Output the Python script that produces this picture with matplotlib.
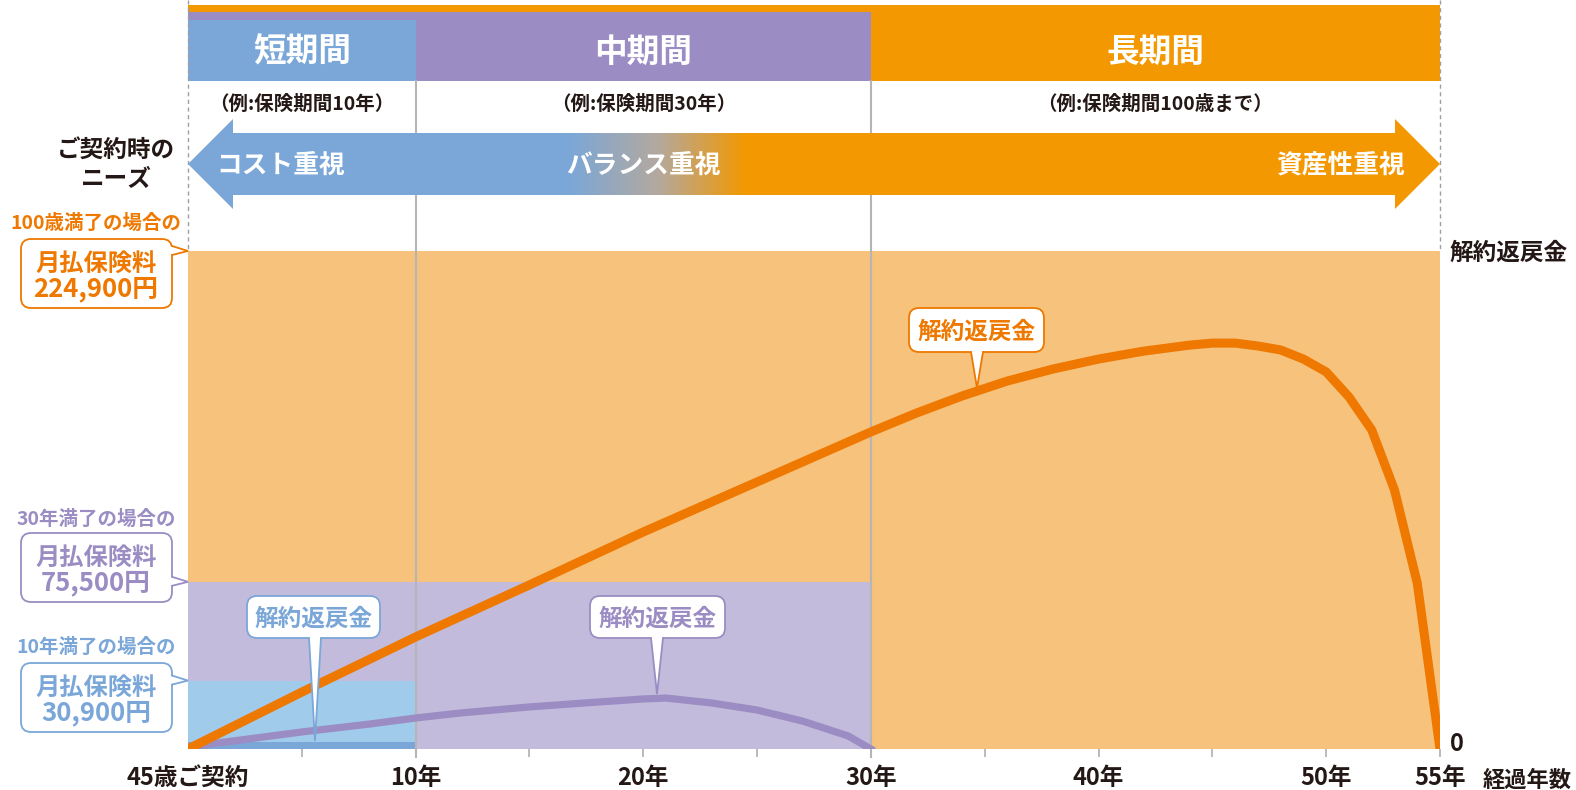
import matplotlib
matplotlib.use("Agg")
import numpy as np
import matplotlib.pyplot as plt
from matplotlib.patches import Rectangle, Polygon, FancyBboxPatch
from matplotlib.colors import LinearSegmentedColormap

plt.rcParams['font.family'] = ['Noto Sans CJK JP', 'DejaVu Sans']

# ---- data ----
periods = ['短期間', '中期間', '長期間']
period_notes = ['（例:保険期間10年）', '（例:保険期間30年）', '（例:保険期間100歳まで）']
period_ends = [10, 30, 55]
needs = ['コスト重視', 'バランス重視', '資産性重視']
premium_labels = ['10年満了の場合の', '30年満了の場合の', '100歳満了の場合の']
premiums = [30900, 75500, 224900]          # monthly premium (yen)

xticks = [0, 10, 20, 30, 40, 50, 55]
xticklabels = ['45歳ご契約', '10年', '20年', '30年', '40年', '50年', '55年']
minor_ticks = [5, 15, 25, 35, 45]

# surrender value curves (same scale as the premium bands)
orange_years = [0, 5, 10, 15, 20, 25, 30, 32, 34, 36, 38, 40, 42, 44, 45, 46,
                47, 48, 49, 50, 51, 52, 53, 54, 55]
orange_refund = [0, 25700, 50600, 74100, 98000, 120600, 143200, 151700, 159400,
                 166200, 171600, 176100, 179700, 182400, 183300, 183300, 182000,
                 180200, 176100, 170300, 159000, 144100, 117000, 75000, 0]
purple_years = [0, 1, 3, 5, 8, 10, 12, 15, 18, 20, 21, 23, 25, 27, 29, 30]
purple_refund = [0, 2300, 5000, 7700, 11300, 14000, 16300, 19000, 21200, 22600,
                 23000, 20800, 17600, 12600, 5900, 0]
blue_years = [0, 10]
blue_refund = [3200, 3200]

# ---- colours ----
DARK = '#231815'
GRAY = '#b5b5b5'
ORANGE_HEAD, ORANGE_FILL, ORANGE_LINE = '#f39800', '#f7c27b', '#ee7800'
PURPLE_HEAD, PURPLE_FILL, PURPLE_LINE = '#9b8dc3', '#c3bbdc', '#9b8dc3'
BLUE_HEAD, BLUE_FILL, BLUE_STRIP = '#7aa7d8', '#a0cbeb', '#7aa7d8'
head_colors = [BLUE_HEAD, PURPLE_HEAD, ORANGE_HEAD]
fill_colors = [BLUE_FILL, PURPLE_FILL, ORANGE_FILL]
label_colors = [BLUE_HEAD, PURPLE_LINE, ORANGE_LINE]

W, H = 1576, 790
X0, X1, YT, YB = 188, 1440, 251, 749   # plot box in pixels

fig = plt.figure(figsize=(W / 100, H / 100), dpi=100)
ax = fig.add_axes([X0 / W, 1 - YB / H, (X1 - X0) / W, (YB - YT) / H])
ax.set_xlim(0, 55)
ax.set_ylim(0, premiums[-1])
ax.patch.set_alpha(0)
for s in ax.spines.values():
    s.set_visible(False)
ax.set_yticks([])


def fy(row):
    return (YB - row) / (YB - YT)


xt = ax.get_xaxis_transform()

# header period bands
head_tops = [20, 12, 5]
for end, top, c in reversed(list(zip(period_ends, head_tops, head_colors))):
    ax.add_patch(Rectangle((0, fy(81)), end, fy(top) - fy(81), transform=xt,
                           color=c, lw=0, clip_on=False, zorder=1))
starts = [0] + period_ends[:-1]
for s, e, name, note in zip(starts, period_ends, periods, period_notes):
    ax.text((s + e) / 2, fy(52), name, transform=xt, ha='center', va='center',
            color='white', fontsize=23.5, fontweight='bold', zorder=3)
    ax.text((s + e) / 2, fy(104), note, transform=xt, ha='center', va='center',
            color=DARK, fontsize=14, fontweight='bold', zorder=3)

# premium bands
for end, p, c in reversed(list(zip(period_ends, premiums, fill_colors))):
    ax.bar(0, p, width=end, align='edge', color=c, lw=0, zorder=1)
ax.fill_between(blue_years, 0, blue_refund, color=BLUE_STRIP, lw=0, zorder=2)

for b in period_ends[:2]:
    ax.axvline(b, ymin=fy(757), ymax=fy(81), color=GRAY, lw=1.5, zorder=3,
               clip_on=False)

ax.plot(purple_years, purple_refund, color=PURPLE_LINE, lw=5.2, zorder=4,
        solid_joinstyle='round')
ax.plot(orange_years, orange_refund, color=ORANGE_LINE, lw=6.5, zorder=5,
        solid_joinstyle='round')

ax.set_xticks(xticks, xticklabels, fontsize=17, fontweight='bold', color=DARK)
ax.set_xticks(minor_ticks, minor=True)
ax.tick_params(axis='x', which='both', length=5.8, width=1.3, color=GRAY, pad=6.6)
ax.xaxis.get_major_ticks()[0].tick1line.set_visible(False)

# ---- overlay in pixel coordinates ----
ov = fig.add_axes([0, 0, 1, 1])
ov.set_zorder(2)
ov.patch.set_alpha(0)
ov.axis('off')

# needs arrow
cm = LinearSegmentedColormap.from_list('g', [BLUE_HEAD, '#b3a9a0', ORANGE_HEAD])
ov.imshow(np.linspace(0, 1, 200)[None, :], extent=(567, 747, 195, 133), cmap=cm,
          aspect='auto', zorder=2, interpolation='bilinear')
ov.add_patch(Polygon([(188, 164), (233, 119), (233, 133), (568, 133), (568, 195),
                      (233, 195), (233, 209)], closed=True, fc=BLUE_HEAD, lw=0, zorder=2))
ov.add_patch(Polygon([(746, 133), (1395, 133), (1395, 119), (1440, 164), (1395, 209),
                      (1395, 195), (746, 195)], closed=True, fc=ORANGE_HEAD, lw=0, zorder=2))
for x, t in zip([281, 643, 1340], needs):
    ov.text(x, 165, t, ha='center', va='center', color='white', fontsize=18.5,
            fontweight='bold', zorder=3)

for x in (X0, X1):
    ov.plot([x, x], [0, YT], color='#a0a0a0', lw=1, ls=(0, (3, 2.5)), zorder=1)

ov.text(116, 150, 'ご契約時の', ha='center', va='center', color=DARK,
        fontsize=17, fontweight='bold')
ov.text(116, 179, 'ニーズ', ha='center', va='center', color=DARK,
        fontsize=17, fontweight='bold')


def callout(x0, y0, x1, y1, b1, tip, b2, color, lw=1.3):
    ov.add_patch(FancyBboxPatch((x0, y0), x1 - x0, y1 - y0,
                                boxstyle='round,pad=0,rounding_size=10',
                                fc='white', ec=color, lw=lw, zorder=10))
    if b1[0] == b2[0]:
        inner = [(b1[0] - 2, b1[1]), tip, (b2[0] - 2, b2[1])]
    else:
        inner = [(b1[0], b1[1] - 2), tip, (b2[0], b2[1] - 2)]
    ov.add_patch(Polygon(inner, closed=True, fc='white', lw=0, zorder=11))
    ov.plot([b1[0], tip[0], b2[0]], [b1[1], tip[1], b2[1]], color=color, lw=lw,
            zorder=12, solid_joinstyle='miter')


# premium callouts on the left
label_rows = [647, 519, 223]
box_tops = [663, 533, 239]
for lab, p, c, lr, bt in zip(premium_labels, premiums, label_colors, label_rows, box_tops):
    ov.text(96, lr, lab, ha='center', va='center', color=c, fontsize=14,
            fontweight='bold')
    level = YB - (YB - YT) * p / premiums[-1]
    callout(21, bt, 172, bt + 69, (172, level - 5), (188, level), (172, level + 4), c)
    ov.text(96, bt + 25, '月払保険料', ha='center', va='center', color=c,
            fontsize=17.5, fontweight='bold', zorder=13)
    ov.text(96, bt + 50, f'{p:,}円', ha='center', va='center', color=c,
            fontsize=18.5, fontweight='bold', zorder=13)

# surrender value callouts
for (bx0, by0, bx1, by1, tx, ty), c in zip(
        [(247, 596, 380, 638, 315, 741), (590, 596, 725, 638, 657, 694),
         (909, 308, 1044, 352, 977, 388)],
        [BLUE_HEAD, PURPLE_LINE, ORANGE_LINE]):
    callout(bx0, by0, bx1, by1, (tx - 6, by1), (tx, ty), (tx + 6, by1), c)
    ov.text((bx0 + bx1) / 2, (by0 + by1) / 2 + 2, '解約返戻金', ha='center',
            va='center', color=c, fontsize=17, fontweight='bold', zorder=13)

ov.text(1450, 253, '解約返戻金', ha='left', va='center', color=DARK,
        fontsize=17, fontweight='bold')
ov.text(1450, 744, '0', ha='left', va='center', color=DARK, fontsize=17,
        fontweight='bold')
ov.text(1483, 780, '経過年数', ha='left', va='center', color=DARK, fontsize=16,
        fontweight='bold')

ov.set_xlim(0, W)
ov.set_ylim(H, 0)

fig.savefig('out.png', dpi=100)
